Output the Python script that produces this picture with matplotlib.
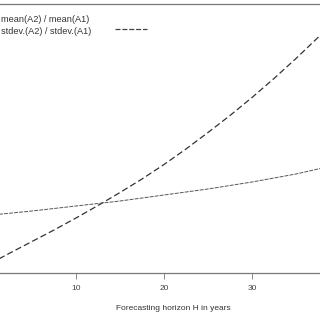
import matplotlib
matplotlib.use("Agg")
import matplotlib.pyplot as plt
from matplotlib.lines import Line2D

plt.rcParams['font.family'] = ['Liberation Sans', 'DejaVu Sans']

# Forecasting horizon H (years)
horizon = [1, 2.5, 5, 7.5, 10, 12.5, 15, 17.5, 20, 22.5, 25, 27.5, 30, 32.5, 35, 37.5, 38]
# mean(A2)/mean(A1)  (axis units, y-axis hidden in the crop)
mean_ratio = [0.63, 0.70, 0.815, 0.93, 1.05, 1.175, 1.305, 1.44, 1.585, 1.74, 1.905, 2.075,
              2.255, 2.445, 2.645, 2.855, 2.90]
# stdev(A2)/stdev(A1)
horizon_sd = [1, 5, 10, 15, 20, 25, 30, 35, 38]
sd_ratio = [1.085, 1.12, 1.17, 1.22, 1.28, 1.34, 1.41, 1.49, 1.55]

legend_labels = ["mean(A2) / mean(A1)", "stdev.(A2) / stdev.(A1)"]
xticks = [10, 20, 30]
xlabel = "Forecasting horizon H in years"

W = H = 320
fig = plt.figure(figsize=(3.2, 3.2), dpi=100)

# axes extends past the left/right edges of the crop
ax_left_px, ax_right_px = -32, 352
ax_bottom_px, ax_top_px = 273, 4
ax = fig.add_axes([ax_left_px / W, (H - ax_bottom_px) / H,
                   (ax_right_px - ax_left_px) / W, (ax_bottom_px - ax_top_px) / H])

px_per_unit = 8.8
x0_px = -12
ax.set_xlim((ax_left_px - x0_px) / px_per_unit, (ax_right_px - x0_px) / px_per_unit)
ax.set_ylim(0.5, 0.5 + (ax_bottom_px - ax_top_px) * 0.01)

ax.plot(horizon, mean_ratio, color="#333333", lw=0.9, dashes=(5, 2.5))
ax.plot(horizon_sd, sd_ratio, color="#555555", lw=0.7, dashes=(4, 1.2))

for side in ["left", "right"]:
    ax.spines[side].set_visible(False)
for side in ["top", "bottom"]:
    ax.spines[side].set_color("#777777")
    ax.spines[side].set_linewidth(0.9)

ax.set_xticks(xticks)
ax.set_xticklabels([str(t) for t in xticks])
ax.tick_params(axis="x", direction="out", length=4, width=0.6, color="#777777",
               labelsize=6, labelcolor="#444444", pad=5)
ax.set_yticks([])

# x-axis title (centred on the original, uncropped plot region)
fig.text(173 / W, 1 - 309 / H, xlabel, fontsize=6, color="#333333",
         ha="center", va="center")

# legend text
fig.text(1 / W, 1 - 20 / H, legend_labels[0], fontsize=6.6, color="#333333",
         ha="left", va="center")
fig.text(1 / W, 1 - 31 / H, legend_labels[1], fontsize=6.6, color="#333333",
         ha="left", va="center")
fig.add_artist(Line2D([115 / W, 147 / W], [1 - 29 / H, 1 - 29 / H],
                      color="#444444", lw=0.9, dashes=(4, 1.5)))

fig.savefig("out.png", dpi=100)
